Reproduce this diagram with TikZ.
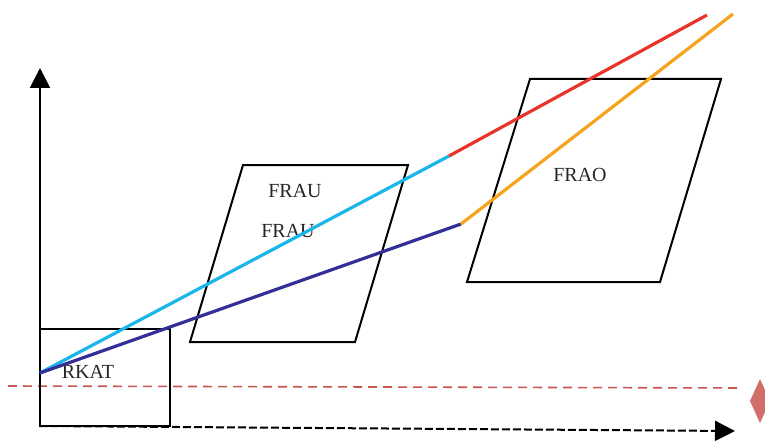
\documentclass[tikz,border=0pt]{standalone}
\usepackage{fontspec}
\setmainfont{Liberation Serif}
\usepackage{tikz}
\usetikzlibrary{arrows.meta}

\definecolor{skyline}{HTML}{1AB5EA}
\definecolor{navyline}{HTML}{332F96}
\definecolor{redline}{HTML}{E8342A}
\definecolor{orangeline}{HTML}{F6A41E}
\definecolor{refline}{HTML}{C9554F}

\begin{document}
\begin{tikzpicture}[
  x=1pt, y=-1pt,
  frame/.style={draw, line width=2pt, line join=miter},
  lbl/.style={font=\fontsize{20}{22}\selectfont, text=black!85},
  ray/.style={line width=3.2pt},
  axis/.style={-{Triangle[length=20pt,width=20pt]}, line width=2pt}
]
\useasboundingbox (0,0) rectangle (765,441);

% reference points
\coordinate (o) at (40,373);
\coordinate (ybot) at (40,426);
\coordinate (ytop) at (40,68);
\coordinate (xend) at (735,431);
\coordinate (cb) at (449,156);
\coordinate (cn) at (461,224);
\coordinate (rtip) at (707,15);
\coordinate (otip) at (733,14);

% axes
\draw[axis] (ybot) -- (ytop);
\draw[axis, dash pattern=on 8pt off 3pt] (ybot) -- (xend);
\draw[refline, line width=1.6pt, dash pattern=on 9pt off 6pt] (8,386) -- (742,388);
\fill[refline!85] (760,379) -- (770,401) -- (760,423) -- (750,401) -- cycle;

% boxes
\draw[frame] (40,329) rectangle (170,426);
\draw[frame] (243,165) -- (408,165) -- (355,342) -- (190,342) -- cycle;
\draw[frame] (530,79) -- (721,79) -- (660,282) -- (467,282) -- cycle;

% labels
\node[lbl] (rkat) at (88,372) {RKAT};
\node[lbl] (frau1) at (295,191) {FRAU};
\node[lbl] (frau2) at (288,231) {FRAU};
\node[lbl] (frao) at (580,175) {FRAO};

% rays
\draw[ray, skyline] (o) -- (cb);
\draw[ray, redline] (cb) -- (rtip);
\draw[ray, navyline] (o) -- (cn);
\draw[ray, orangeline] (cn) -- (otip);
\end{tikzpicture}
\end{document}
